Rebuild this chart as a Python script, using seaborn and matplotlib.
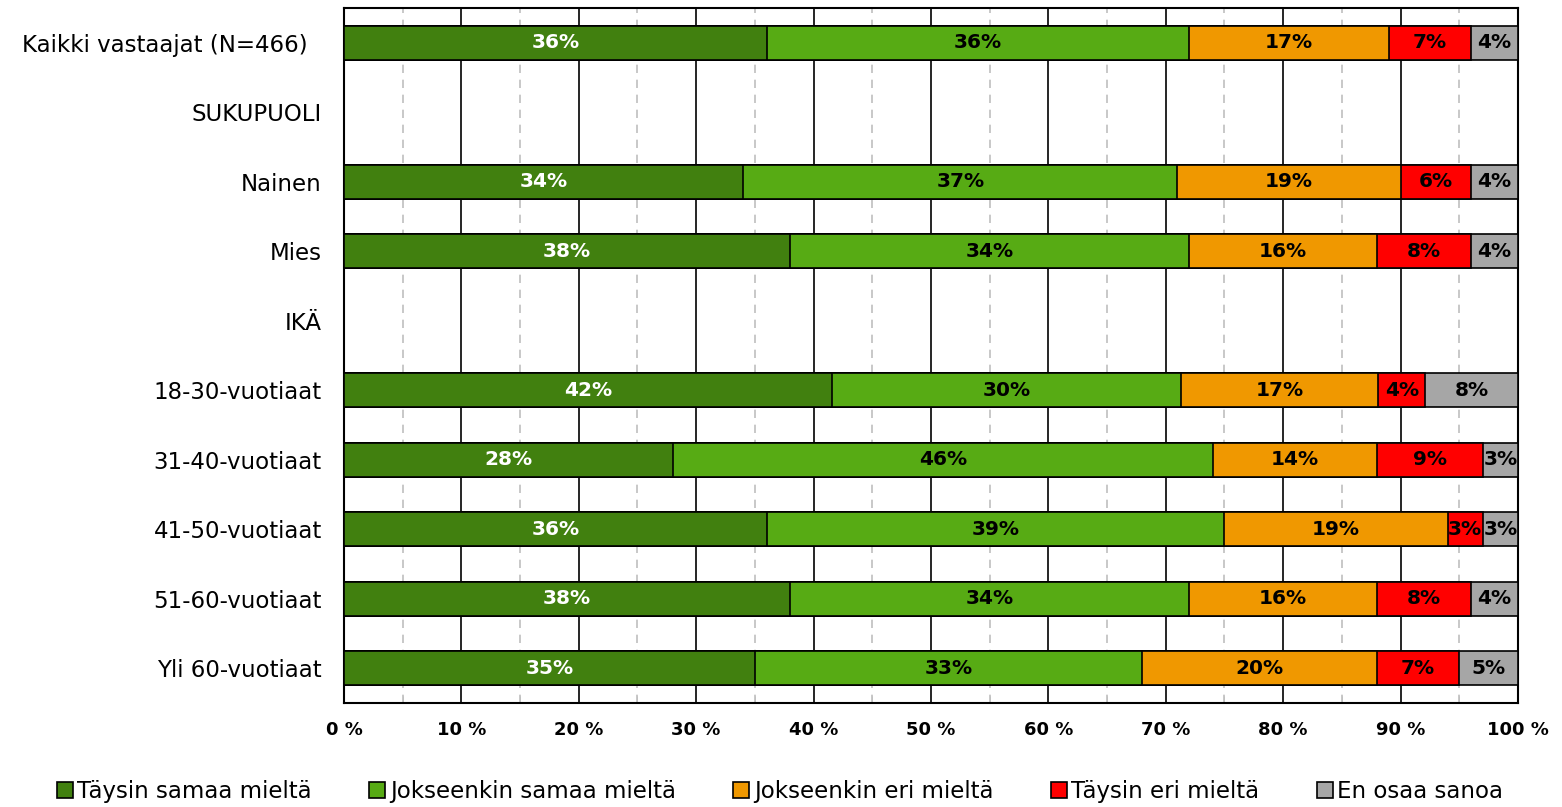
import numpy as np
import pandas as pd
import matplotlib
matplotlib.use("Agg")
import matplotlib.pyplot as plt
import seaborn as sns
from matplotlib.ticker import MultipleLocator, FuncFormatter

rows = ['Kaikki vastaajat (N=466)', 'SUKUPUOLI', 'Nainen', 'Mies', 'IKÄ',
        '18-30-vuotiaat', '31-40-vuotiaat', '41-50-vuotiaat', '51-60-vuotiaat',
        'Yli 60-vuotiaat']
groups = ['Kaikki vastaajat (N=466)', 'Nainen', 'Mies', '18-30-vuotiaat',
          '31-40-vuotiaat', '41-50-vuotiaat', '51-60-vuotiaat', 'Yli 60-vuotiaat']
series = ['Täysin samaa mieltä', 'Jokseenkin samaa mieltä', 'Jokseenkin eri mieltä',
          'Täysin eri mieltä', 'En osaa sanoa']

taysin_samaa = [36, 34, 38, 41.6, 28, 36, 38, 35]
jokseenkin_samaa = [36, 37, 34, 29.7, 46, 39, 34, 33]
jokseenkin_eri = [17, 19, 16, 16.8, 14, 19, 16, 20]
taysin_eri = [7, 6, 8, 4.0, 9, 3, 8, 7]
en_osaa = [4, 4, 4, 7.9, 3, 3, 4, 5]

colors = ['#41800F', '#57AB14', '#F09800', '#FF0000', '#A6A6A6']
text_colors = ['white', 'black', 'black', 'black', 'black']

df = pd.DataFrame({'ryhma': groups, series[0]: taysin_samaa, series[1]: jokseenkin_samaa,
                   series[2]: jokseenkin_eri, series[3]: taysin_eri, series[4]: en_osaa})
cum = df[series].cumsum(axis=1)

plt.rcParams['font.family'] = ['DejaVu Sans']

fig, ax = plt.subplots(figsize=(15.62, 8.07), dpi=100)
fig.subplots_adjust(left=0.2202, right=0.9718, top=0.990, bottom=0.1289)

# stacked bars: draw cumulative totals from the last series backwards
for i in range(len(series) - 1, -1, -1):
    d = pd.DataFrame({'ryhma': groups, 'arvo': cum[series[i]]})
    sns.barplot(data=d, x='arvo', y='ryhma', order=rows, orient='h', ax=ax,
                color=colors[i], saturation=1, width=0.49, edgecolor='black',
                linewidth=1.2, label=series[i], zorder=3)

# value labels
for i, s in enumerate(series):
    for g, v, c in zip(groups, df[s], cum[s]):
        y = rows.index(g)
        ax.text(c - v / 2, y, '{:.0f}%'.format(v), ha='center', va='center',
                fontsize=14.5, fontweight='bold', color=text_colors[i], zorder=5)

ax.set_xlim(0, 100)
ax.set_ylim(len(rows) - 0.5, -0.5)
ax.xaxis.set_major_locator(MultipleLocator(10))
ax.xaxis.set_minor_locator(MultipleLocator(5))
ax.xaxis.set_major_formatter(FuncFormatter(lambda x, p: '{:.0f} %'.format(x)))
ax.set_axisbelow(True)
ax.grid(axis='x', which='major', color='black', linewidth=1.2, linestyle='-')
ax.grid(axis='x', which='minor', color='#BFBFBF', linewidth=1.2, linestyle=(0, (5, 4)))
ax.grid(axis='y', visible=False)
ax.tick_params(axis='x', which='major', length=0, pad=13, labelsize=13)
ax.tick_params(axis='x', which='minor', length=5, direction='in', color='#BFBFBF')
ax.tick_params(axis='y', length=0, pad=16, labelsize=16.5)
for lab in ax.get_xticklabels():
    lab.set_fontweight('bold')
ax.set_yticks(range(len(rows)))
ax.set_yticklabels([r + '  ' if r.startswith('Kaikki') else r for r in rows])
ax.set_xlabel('')
ax.set_ylabel('')
for sp in ax.spines.values():
    sp.set_color('black')
    sp.set_linewidth(1.5)

handles, labels = ax.get_legend_handles_labels()
if ax.get_legend() is not None:
    ax.get_legend().remove()
order = [labels.index(s) for s in series]
leg = fig.legend([handles[k] for k in order], [labels[k] for k in order],
                 loc='lower center', bbox_to_anchor=(0.4994, -0.007), ncol=5, frameon=False,
                 fontsize=16.5, handlelength=0.7, handleheight=0.7, handletextpad=0.2,
                 columnspacing=2.5, borderaxespad=0)

fig.savefig('out.png', dpi=100)
